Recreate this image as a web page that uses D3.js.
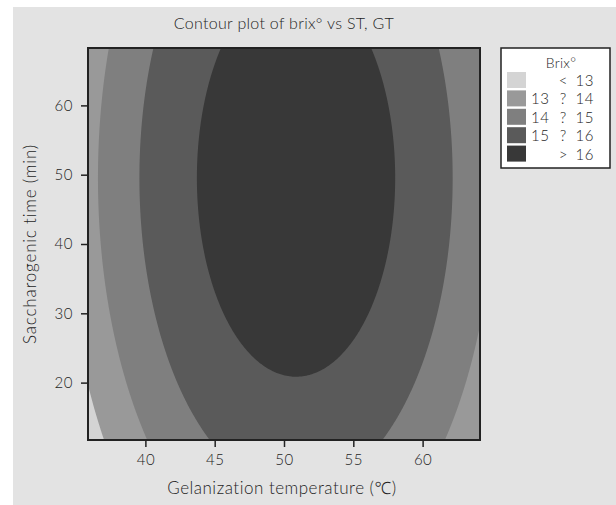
<!DOCTYPE html>
<html>
<head>
<meta charset="utf-8">
<script src="https://cdn.jsdelivr.net/npm/d3@7"></script>
<style>
  html, body { margin: 0; padding: 0; background: #ffffff; }
  svg { display: block; }
  text { font-family: Lato, "Noto Sans", sans-serif; font-weight: 300; fill: #1e1e1e; }
</style>
</head>
<body>
<div id="chart"></div>
<script>
// axis ranges (central composite design, +-1.414 axial points)
const gtRange = [35.86, 64.14];
const stRange = [11.72, 68.28];
const gtCenter = 50, gtStep = 10;
const stCenter = 40, stStep = 20;

const gtTicks = [40, 45, 50, 55, 60];
const stTicks = [20, 30, 40, 50, 60];

// fitted response surface in coded units
const modelTerms = ["const", "GT", "ST", "GT*GT", "ST*ST", "GT*ST"];
const modelCoefs = [16.585, 0.227, 0.31, -1.307, -0.325, 0];

const brixLevels = [13, 14, 15, 16];
const bandColors = ["#d4d4d4", "#999999", "#7f7f7f", "#5a5a5a", "#383838"];
const bandLabels = [
  ["", "<", "13"],
  ["13", "?", "14"],
  ["14", "?", "15"],
  ["15", "?", "16"],
  ["", ">", "16"],
];

const width = 616;
const height = 505;
const plot = { left: 88, right: 480, top: 48, bottom: 440 };

function brix(gt, st) {
  const x1 = (gt - gtCenter) / gtStep;
  const x2 = (st - stCenter) / stStep;
  const terms = [1, x1, x2, x1 * x1, x2 * x2, x1 * x2];
  return d3.sum(terms, (t, i) => t * modelCoefs[i]);
}

const svg = d3
  .select("#chart")
  .append("svg")
  .attr("width", width)
  .attr("height", height);

svg
  .append("rect")
  .attr("x", 13)
  .attr("y", 7)
  .attr("width", width - 13)
  .attr("height", height - 7)
  .attr("fill", "#e3e3e3");

const x = d3.scaleLinear().domain(gtRange).range([plot.left, plot.right]);
const y = d3.scaleLinear().domain(stRange).range([plot.bottom, plot.top]);

svg
  .append("clipPath")
  .attr("id", "plotClip")
  .append("rect")
  .attr("x", plot.left)
  .attr("y", plot.top)
  .attr("width", plot.right - plot.left)
  .attr("height", plot.bottom - plot.top);

const contourGroup = svg.append("g").attr("clip-path", "url(#plotClip)");

contourGroup
  .append("rect")
  .attr("x", plot.left)
  .attr("y", plot.top)
  .attr("width", plot.right - plot.left)
  .attr("height", plot.bottom - plot.top)
  .attr("fill", bandColors[0]);

const nx = 240, ny = 240;
const grid = new Array(nx * ny);
for (let j = 0; j < ny; j++) {
  const st = stRange[0] + ((j + 0.5) / ny) * (stRange[1] - stRange[0]);
  for (let i = 0; i < nx; i++) {
    const gt = gtRange[0] + ((i + 0.5) / nx) * (gtRange[1] - gtRange[0]);
    grid[i + j * nx] = brix(gt, st);
  }
}

const contours = d3.contours().size([nx, ny]).thresholds(brixLevels)(grid);

const projection = d3.geoTransform({
  point: function (gx, gy) {
    const gt = gtRange[0] + (gx / nx) * (gtRange[1] - gtRange[0]);
    const st = stRange[0] + (gy / ny) * (stRange[1] - stRange[0]);
    this.stream.point(x(gt), y(st));
  },
});

contourGroup
  .selectAll("path.band")
  .data(contours)
  .enter()
  .append("path")
  .attr("class", "band")
  .attr("d", d3.geoPath(projection))
  .attr("fill", (d, i) => bandColors[i + 1]);

// frame
svg
  .append("rect")
  .attr("x", plot.left)
  .attr("y", plot.top)
  .attr("width", plot.right - plot.left)
  .attr("height", plot.bottom - plot.top)
  .attr("fill", "none")
  .attr("stroke", "#222")
  .attr("stroke-width", 2);

const xAxis = svg
  .append("g")
  .attr("transform", `translate(0,${plot.bottom + 1})`)
  .call(d3.axisBottom(x).tickValues(gtTicks).tickSize(6).tickPadding(7));

const yAxis = svg
  .append("g")
  .attr("transform", `translate(${plot.left - 1},0)`)
  .call(d3.axisLeft(y).tickValues(stTicks).tickSize(6).tickPadding(8));

[xAxis, yAxis].forEach((axis) => {
  axis.select(".domain").remove();
  axis.selectAll(".tick line").attr("stroke", "#222").attr("stroke-width", 1.5);
  axis
    .selectAll(".tick text")
    .attr("font-family", "Lato, 'Noto Sans', sans-serif")
    .attr("font-size", 15)
    .attr("letter-spacing", 0.5)
    .attr("fill", "#1e1e1e");
});

svg
  .append("text")
  .attr("x", (plot.left + plot.right) / 2)
  .attr("y", 29)
  .attr("text-anchor", "middle")
  .attr("font-size", 16)
  .attr("letter-spacing", 0.3)
  .text("Contour plot of brix° vs ST, GT");

svg
  .append("text")
  .attr("x", (plot.left + plot.right) / 2 - 2)
  .attr("y", 494)
  .attr("text-anchor", "middle")
  .attr("font-size", 17)
  .attr("letter-spacing", 0.5)
  .text("Gelanization temperature (℃)");

svg
  .append("text")
  .attr("transform", `translate(36,${(plot.top + plot.bottom) / 2}) rotate(-90)`)
  .attr("text-anchor", "middle")
  .attr("font-size", 17)
  .attr("letter-spacing", 0.8)
  .text("Saccharogenic time (min)");

// legend
const legend = svg.append("g");

legend
  .append("rect")
  .attr("x", 501)
  .attr("y", 48)
  .attr("width", 109)
  .attr("height", 120)
  .attr("fill", "#ffffff")
  .attr("stroke", "#222")
  .attr("stroke-width", 1.5);

legend
  .append("text")
  .attr("x", 561)
  .attr("y", 68)
  .attr("text-anchor", "middle")
  .attr("font-size", 14)
  .attr("letter-spacing", 0.3)
  .text("Brix°");

const rows = legend
  .selectAll("g.row")
  .data(bandLabels)
  .enter()
  .append("g")
  .attr("class", "row")
  .attr("transform", (d, i) => `translate(0,${72 + i * 18.4})`);

rows
  .append("rect")
  .attr("x", 507)
  .attr("y", 0)
  .attr("width", 19)
  .attr("height", 16)
  .attr("fill", (d, i) => bandColors[i]);

rows
  .append("text")
  .attr("x", 531)
  .attr("y", 14)
  .attr("font-size", 15)
  .attr("letter-spacing", 0.5)
  .text((d) => d[0]);

rows
  .append("text")
  .attr("x", 563)
  .attr("y", 14)
  .attr("text-anchor", "middle")
  .attr("font-size", 15)
  .text((d) => d[1]);

rows
  .append("text")
  .attr("x", 594)
  .attr("y", 14)
  .attr("text-anchor", "end")
  .attr("font-size", 15)
  .attr("letter-spacing", 0.5)
  .text((d) => d[2]);
</script>
</body>
</html>
